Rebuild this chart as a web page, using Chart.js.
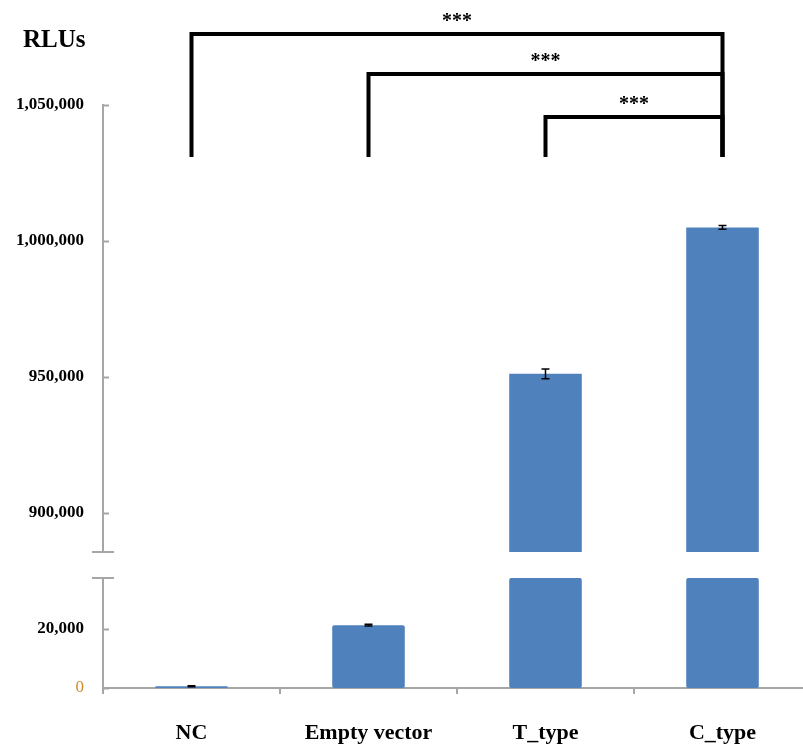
<!DOCTYPE html>
<html>
<head>
<meta charset="utf-8">
<script src="https://cdn.jsdelivr.net/npm/chart.js@4.4.1/dist/chart.umd.min.js"></script>
<style>
  html, body { margin: 0; padding: 0; background: #fff; overflow: hidden; }
  #wrap { width: 813px; height: 747px; position: relative; }
</style>
</head>
<body>
<div id="wrap"><canvas id="myChart"></canvas></div>
<script>
var groups = ['NC', 'Empty vector', 'T_type', 'C_type'];
var rlus = [600, 21300, 951200, 1005000];
var errs = [150, 300, 1800, 700];

var lowerTicks = [0, 20000];
var upperTicks = [900000, 950000, 1000000, 1050000];
var lowerMax = 37300;
var upperMin = 885700;
var upperMax = 1050000;

// significance brackets: [from, to, level (RLUs), label]
var brackets = [[0, 3, 1076100, '***'], [1, 3, 1061400, '***'], [2, 3, 1045600, '***']];
var bracketFoot = 1031600;

var lowData = rlus.map(function (v) { return Math.min(v, lowerMax); });
var upData = rlus.map(function (v) { return v > upperMin ? v : null; });

var axisGrey = '#a6a6a6';
var serif = 'Liberation Serif';

function fmt(v) { return Number(v).toLocaleString('en-US'); }

var extras = {
  id: 'extras',
  afterDraw: function (chart) {
    var c = chart.ctx;
    var yUp = chart.scales.yUp, yLow = chart.scales.yLow, x = chart.scales.x;
    c.save();

    // inward tick marks on the y axis
    c.strokeStyle = axisGrey;
    c.lineWidth = 2;
    [yUp, yLow].forEach(function (s) {
      s.ticks.forEach(function (t) {
        var py = Math.round(s.getPixelForValue(t.value)) + 0.5;
        c.beginPath();
        c.moveTo(s.right, py);
        c.lineTo(s.right + 6, py);
        c.stroke();
      });
    });
    // break caps
    [yUp.bottom, yLow.top].forEach(function (py) {
      c.beginPath();
      c.moveTo(yUp.right - 11, py);
      c.lineTo(yUp.right + 11, py);
      c.stroke();
    });

    // error bars
    var meta = chart.getDatasetMeta(0);
    c.strokeStyle = '#000';
    c.lineWidth = 1.5;
    rlus.forEach(function (v, i) {
      var s = v > upperMin ? yUp : yLow;
      var px = meta.data[i].x;
      var top = s.getPixelForValue(v + errs[i]);
      var bot = s.getPixelForValue(v - errs[i]);
      c.beginPath();
      c.moveTo(px, top); c.lineTo(px, bot);
      c.moveTo(px - 4, top); c.lineTo(px + 4, top);
      c.moveTo(px - 4, bot); c.lineTo(px + 4, bot);
      c.stroke();
    });

    // significance brackets
    c.lineWidth = 4;
    c.lineCap = 'square';
    c.fillStyle = '#000';
    c.font = 'bold 20px ' + serif;
    c.textAlign = 'center';
    c.textBaseline = 'bottom';
    var foot = yUp.getPixelForValue(bracketFoot);
    brackets.forEach(function (b) {
      var x1 = x.getPixelForValue(b[0]);
      var x2 = x.getPixelForValue(b[1]);
      var py = yUp.getPixelForValue(b[2]);
      c.beginPath();
      c.moveTo(x1, foot); c.lineTo(x1, py); c.lineTo(x2, py); c.lineTo(x2, foot);
      c.stroke();
      c.fillText(b[3], (x1 + x2) / 2, py - 2);
    });

    // axis title
    c.font = 'bold 25px ' + serif;
    c.textAlign = 'left';
    c.textBaseline = 'middle';
    c.fillText('RLUs', 23, 41);
    c.restore();
  }
};

function yTickFont(ctx) {
  return ctx.tick && ctx.tick.value === 0
    ? { family: serif, size: 17, weight: 'normal' }
    : { family: serif, size: 17, weight: 'bold' };
}

var myChart = new Chart(document.getElementById('myChart'), {
  type: 'bar',
  data: {
    labels: groups,
    datasets: [{
      label: 'RLUs',
      data: lowData,
      yAxisID: 'yLow',
      backgroundColor: '#4f81bd',
      borderWidth: 0,
      borderRadius: 2,
      borderSkipped: false,
      grouped: false,
      categoryPercentage: 1,
      barPercentage: 0.41
    }, {
      label: 'RLUs (upper)',
      data: upData,
      yAxisID: 'yUp',
      backgroundColor: '#4f81bd',
      borderWidth: 0,
      grouped: false,
      categoryPercentage: 1,
      barPercentage: 0.41
    }]
  },
  options: {
    responsive: true,
    maintainAspectRatio: false,
    animation: false,
    layout: { padding: { top: 105, right: 2, left: 0, bottom: 0 } },
    plugins: { legend: { display: false }, tooltip: { enabled: false } },
    scales: {
      x: {
        grid: { offset: true, drawOnChartArea: false, drawTicks: true, tickLength: 6, color: axisGrey, lineWidth: 2 },
        border: { color: axisGrey, width: 2 },
        ticks: { color: '#000', font: { family: serif, size: 22, weight: 'bold' }, padding: 26 },
        afterFit: function (s) { s.height = 59; }
      },
      yUp: {
        type: 'linear', position: 'left', stack: 'v', stackWeight: 447, weight: 2,
        min: upperMin, max: upperMax,
        grid: { display: false, drawTicks: false },
        border: { color: axisGrey, width: 2 },
        ticks: { color: '#000', font: yTickFont, padding: 19, callback: fmt },
        afterBuildTicks: function (s) { s.ticks = upperTicks.map(function (v) { return { value: v }; }); },
        afterFit: function (s) { s.width = 103; }
      },
      yGap: {
        type: 'linear', position: 'left', stack: 'v', stackWeight: 26, weight: 1,
        min: 0, max: 1,
        grid: { display: false, drawTicks: false },
        border: { display: false },
        ticks: { display: false },
        afterFit: function (s) { s.width = 103; }
      },
      yLow: {
        type: 'linear', position: 'left', stack: 'v', stackWeight: 110, weight: 0,
        min: 0, max: lowerMax,
        grid: { display: false, drawTicks: false },
        border: { color: axisGrey, width: 2 },
        ticks: {
          color: function (ctx) { return ctx.tick && ctx.tick.value === 0 ? '#d08a2a' : '#000'; },
          font: yTickFont, padding: 19, callback: fmt
        },
        afterBuildTicks: function (s) { s.ticks = lowerTicks.map(function (v) { return { value: v }; }); },
        afterFit: function (s) { s.width = 103; }
      }
    }
  },
  plugins: [extras]
});
</script>
</body>
</html>
